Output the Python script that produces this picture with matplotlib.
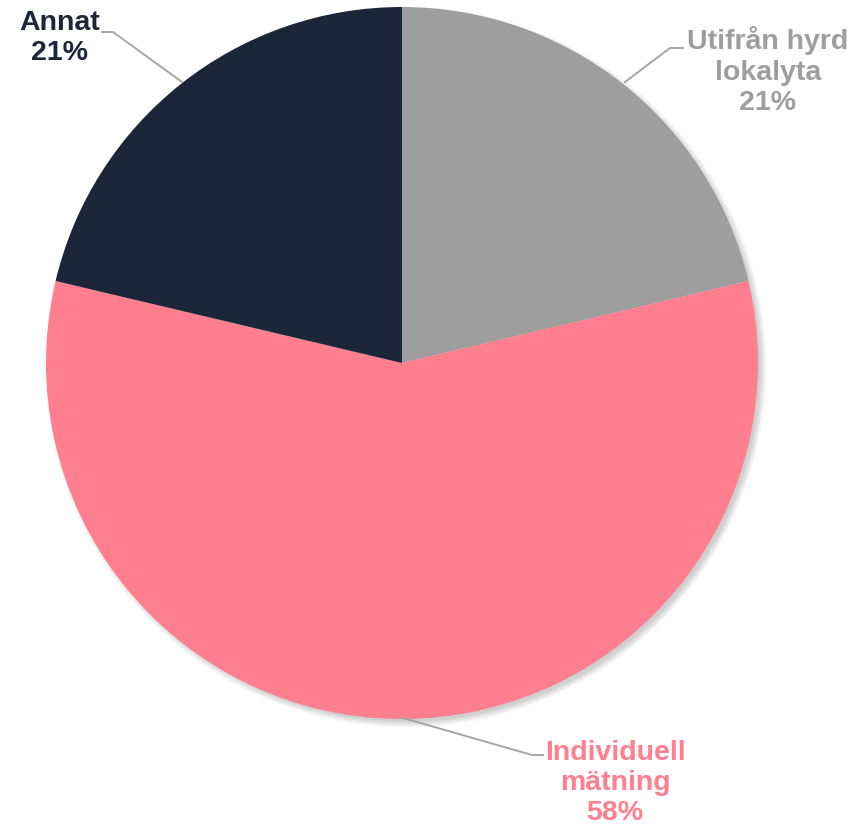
import matplotlib
matplotlib.use("Agg")
import matplotlib.pyplot as plt
from matplotlib.patches import Circle

categories = ["Utifrån hyrd\nlokalyta", "Individuell\nmätning", "Annat"]
values = [21.3, 57.4, 21.3]
pct_labels = ["21%", "58%", "21%"]
colors = ["#9E9E9E", "#FF7F8F", "#1B2638"]

plt.rcParams['font.family'] = ['Liberation Sans', 'DejaVu Sans']

W, H = 866, 825
fig = plt.figure(figsize=(W / 100, H / 100), dpi=100)
ax = fig.add_axes([0, 0, 1, 1])

cx, cy, r = 402, H - 363, 356

# soft shadow
for i in range(8):
    ax.add_patch(Circle((cx + 4, cy - 4), r - 2 + i * 0.9, color='black',
                        alpha=0.025, lw=0, zorder=0))

ax.pie(values, colors=colors, startangle=90, counterclock=False,
       center=(cx, cy), radius=r, wedgeprops=dict(linewidth=0),
       frame=True)
ax.set_xlim(0, W)
ax.set_ylim(0, H)
ax.set_aspect('equal')
ax.axis('off')

line_c = "#A6A6A6"
def yy(v):
    return H - v

# leader lines
ax.plot([102, 113, 182], [yy(32), yy(32), yy(82)], color=line_c, lw=1.4, zorder=5)
ax.plot([683, 670, 625], [yy(48), yy(48), yy(82)], color=line_c, lw=1.4, zorder=5)
ax.plot([543, 532, 403], [yy(755), yy(755), yy(718)], color=line_c, lw=1.4, zorder=5)

fs = 20.5
ls = 1.22
ax.text(60, yy(38), f"{categories[2]}\n{pct_labels[2]}", ha='center', va='center',
        fontsize=fs, fontweight='bold', color=colors[2], linespacing=ls)
ax.text(768, yy(71), f"{categories[0]}\n{pct_labels[0]}", ha='center', va='center',
        fontsize=fs, fontweight='bold', color=colors[0], linespacing=ls)
ax.text(615, yy(783), f"{categories[1]}\n{pct_labels[1]}", ha='center', va='center',
        fontsize=fs, fontweight='bold', color=colors[1], linespacing=ls)

fig.savefig("out.png", dpi=100)
